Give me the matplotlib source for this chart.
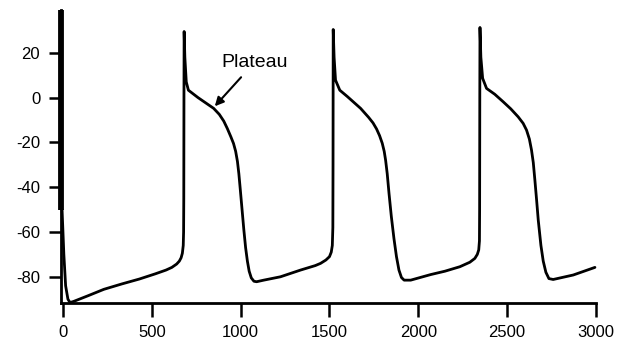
import matplotlib
matplotlib.use("Agg")
import matplotlib.pyplot as plt

# Membrane potential trace (ms, mV)
time_ms = [-5, 5, 15, 28, 40, 60, 143, 230, 331, 430, 519, 580, 613, 640, 655, 665, 672, 677, 679, 680, 681, 682,
           686, 694, 706, 760, 848, 880, 905, 925, 945, 960, 972, 982, 990, 998, 1008, 1018, 1028, 1038, 1048,
           1060, 1075, 1090, 1130, 1224, 1337, 1420, 1450, 1480, 1500, 1510, 1516, 1519, 1520, 1521,
           1526, 1534, 1558, 1600, 1675, 1720, 1745, 1765, 1782, 1797, 1808, 1816, 1825, 1835, 1848, 1863,
           1877, 1891, 1905, 1920, 1957, 2070, 2150, 2234, 2290, 2318, 2332, 2340, 2344, 2345, 2346, 2347,
           2352, 2362, 2384, 2430, 2478, 2520, 2562, 2590, 2609, 2625, 2637, 2647, 2656, 2666, 2675, 2690,
           2703, 2718, 2735, 2759, 2872, 2994]
voltage_mv = [-50, -70, -84, -90, -91.5, -91, -88.4, -85.6, -83.2, -81, -78.7, -77, -75.8, -74.3, -73, -71.5, -69.5, -66, -60, -45, 0, 29.5,
              18, 7, 3.3, 0, -4.8, -7.5, -10.5, -13.8, -17.5, -20.5, -24, -28.5, -34, -41, -50, -59, -67, -73, -77.5,
              -80.5, -82, -82.2, -81.5, -80, -77, -75, -74, -72.5, -71, -69, -66, -58, -30, 30.4,
              18, 7.8, 3.3, 0.5, -4.8, -8.8, -11.3, -14, -17, -20.4, -24, -28, -34, -42.7, -53, -63,
              -71, -77, -80.3, -81.5, -81.5, -79, -77.5, -75.5, -73.5, -71.8, -70, -68, -64, -50, 0, 31.3,
              18, 8.6, 4.1, 1.5, -1.9, -5, -8.6, -11.5, -14.5, -18.5, -23.4, -29, -36.8, -46, -54.7, -66,
              -73, -78, -80.8, -81.2, -79.2, -75.8]

# initial stimulus artefact (thick bar at start)
artefact_t = [-11, -11]
artefact_v = [39, -50]

x_ticks = [0, 500, 1000, 1500, 2000, 2500, 3000]
y_ticks = [-80, -60, -40, -20, 0, 20]

annot_text = "Plateau"
annot_point = (844, -4.8)
annot_text_pos = (1080, 15.8)
annot_arrow_start = (1013, 10)

fig = plt.figure(figsize=(6.3, 3.44), dpi=100)
ax = fig.add_axes([61 / 630, 41 / 344, 535 / 630, 293 / 344])

ax.plot(time_ms, voltage_mv, color="black", lw=2.0, clip_on=False,
        solid_joinstyle="round", solid_capstyle="round")
ax.plot(artefact_t, artefact_v, color="black", lw=4.2, clip_on=False, solid_capstyle="butt")

ax.set_xlim(-11, 3000)
ax.set_ylim(-91.7, 39.1)
ax.set_xticks(x_ticks)
ax.set_yticks(y_ticks)
ax.set_xticklabels([str(v) for v in x_ticks])
ax.set_yticklabels([str(v) for v in y_ticks])

for s in ["top", "right"]:
    ax.spines[s].set_visible(False)
for s in ["left", "bottom"]:
    ax.spines[s].set_linewidth(2.0)

ax.tick_params(axis="both", direction="out", width=1.8, labelsize=12, colors="black")
ax.tick_params(axis="x", length=10, pad=6)
ax.tick_params(axis="y", length=9, pad=6)
for lab in ax.get_xticklabels() + ax.get_yticklabels():
    lab.set_family(["Liberation Sans", "DejaVu Sans"])

ax.annotate("", xy=annot_point, xytext=annot_arrow_start,
            arrowprops=dict(arrowstyle="-|>", color="black", lw=1.5, mutation_scale=13))
ax.text(annot_text_pos[0], annot_text_pos[1], annot_text, ha="center", va="center",
        fontsize=14, family=["Liberation Sans", "DejaVu Sans"])

fig.savefig("out.png", dpi=100)
